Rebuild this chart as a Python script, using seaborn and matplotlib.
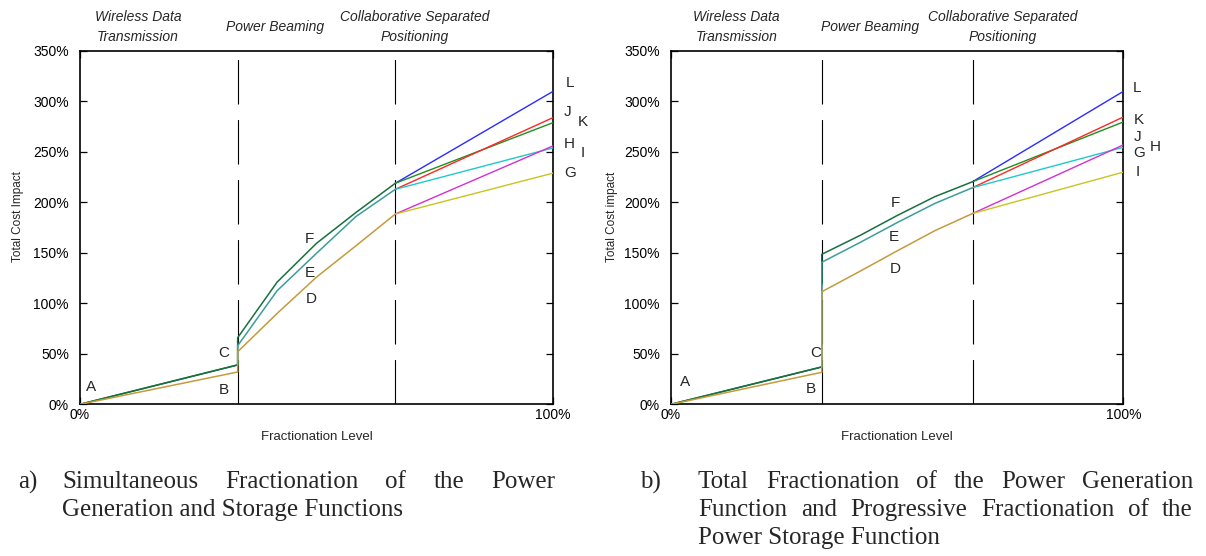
import matplotlib
matplotlib.use("Agg")
import matplotlib.pyplot as plt
import matplotlib.ticker as mticker
import numpy as np
import pandas as pd
import seaborn as sns

sns.set_theme(style="white")
plt.rcParams["font.family"] = ["Liberation Sans", "DejaVu Sans"]

# ---------------------------------------------------------------------------
# Data: total cost impact (%) versus fractionation level (0..1)
# ---------------------------------------------------------------------------
x_levels = [0.0, 1 / 3, 1 / 3, 5 / 12, 1 / 2, 7 / 12, 2 / 3, 1.0]

# (a) simultaneous fractionation of generation and storage
trunk_upper_a = [0, 39, 66, 121, 159.5, 190, 219]      # F path
trunk_mid_a = [0, 39, 58, 112.5, 149.6, 186, 213]       # E path
trunk_lower_a = [0, 32, 52, 90, 126, 157, 188.5]        # D path
end_blue_a, end_green_a = 310, 279
end_red_a, end_cyan_a = 284, 254
end_magenta_a, end_yellow_a = 256, 229

# (b) total generation fractionation, progressive storage fractionation
trunk_upper_b = [0, 37, 148.6, 167, 187, 205.7, 220.5]
trunk_mid_b = [0, 37, 140.7, 160, 180, 199, 214.6]
trunk_lower_b = [0, 31.7, 111.5, 131.5, 152, 172, 189]
end_blue_b, end_green_b = 310, 279.7
end_red_b, end_cyan_b = 284.6, 254.6
end_magenta_b, end_yellow_b = 257, 230

y_ticks = [0, 50, 100, 150, 200, 250, 300, 350]
x_ticks = [0, 1]
x_tick_labels = ["0%", "100%"]

section_titles = [["Wireless Data", "Transmission"], ["Power Beaming"],
                  ["Collaborative Separated", "Positioning"]]

# point labels: text -> (x, y) in data units
point_labels_a = {"A": (0.023, 17.5), "B": (0.303, 14), "C": (0.303, 50.5),
                  "D": (0.488, 104), "E": (0.485, 130), "F": (0.485, 163.5),
                  "L": (1.036, 318), "J": (1.031, 290), "K": (1.063, 280),
                  "H": (1.034, 258), "I": (1.062, 249), "G": (1.037, 229.5)}
point_labels_b = {"A": (0.031, 22.4), "B": (0.31, 15), "C": (0.32, 50.5),
                  "F": (0.495, 199.7), "E": (0.493, 165.4), "D": (0.495, 133.7),
                  "L": (1.031, 313), "K": (1.034, 281.6), "J": (1.031, 265),
                  "G": (1.034, 249), "H": (1.070, 255), "I": (1.031, 230.4)}

# colours
C_UPPER = "#17703f"
C_MID = "#3c9c9c"
C_LOWER = "#c69a3c"
C_BLUE, C_GREEN, C_RED = "#2b2bff", "#1f8f1f", "#ff2626"
C_CYAN, C_MAGENTA, C_YELLOW = "#1fcaca", "#d42fd4", "#c9c41f"


def seg(ax, xs, ys, color, lw=1.1, z=3):
    df = pd.DataFrame({"x": xs, "y": ys})
    sns.lineplot(data=df, x="x", y="y", ax=ax, color=color, lw=lw,
                 estimator=None, sort=False, zorder=z)


def draw_panel(ax, up, mid, low, ends, labels, ylabel, title_x):
    # section 1: two shared paths
    seg(ax, x_levels[:2], mid[:2], C_UPPER, z=3)
    seg(ax, x_levels[:2], up[:2], C_UPPER, z=3)
    seg(ax, x_levels[:2], low[:2], C_LOWER, z=3)
    # section 2 (with the jump at the first boundary)
    seg(ax, x_levels[1:7], up[1:7], C_UPPER, z=3)
    seg(ax, x_levels[1:7], mid[1:7], C_MID, z=4)
    seg(ax, x_levels[1:7], low[1:7], C_LOWER, z=5)
    # section 3: individual branches
    blue, green, red, cyan, magenta, yellow = ends
    branches = [(up, blue, C_BLUE), (up, green, C_GREEN), (mid, red, C_RED),
                (mid, cyan, C_CYAN), (low, magenta, C_MAGENTA),
                (low, yellow, C_YELLOW)]
    for trunk, end, col in branches:
        seg(ax, x_levels[6:], [trunk[6], end], col, lw=1.0, z=4)

    # section boundaries
    for xb in (1 / 3, 2 / 3):
        ax.axvline(xb, color="black", lw=0.8, dashes=(40, 14), zorder=2)

    ax.set_xlim(0, 1)
    ax.set_ylim(0, 350)
    ax.set_yticks(y_ticks)
    ax.yaxis.set_major_formatter(mticker.FuncFormatter(lambda v, p: f"{v:.0f}%"))
    ax.set_xticks(x_ticks)
    ax.set_xticklabels(x_tick_labels)
    ax.tick_params(axis="both", direction="in", length=5, width=0.9,
                   colors="black", labelsize=10, top=True, right=True,
                   bottom=True, left=True)
    ax.tick_params(axis="y", pad=8)
    ax.tick_params(axis="x", pad=3)
    for s in ax.spines.values():
        s.set_visible(True)
        s.set_color("black")
        s.set_linewidth(1.2)
    ax.grid(False)

    ax.set_xlabel("Fractionation Level", fontsize=9.5)
    ax.xaxis.set_label_coords(0.5, -0.093)
    ax.xaxis.label.set_va("center")
    ax.set_ylabel(ylabel, fontsize=8.5)
    ax.yaxis.set_label_coords(-0.131, 0.53)
    ax.yaxis.label.set_va("center")

    for txt, (lx, ly) in labels.items():
        ax.text(lx, ly, txt, fontsize=11, ha="center", va="center",
                clip_on=False)

    for lines, tx in zip(section_titles, title_x):
        if len(lines) == 2:
            ys = [1.097, 1.040]
        else:
            ys = [1.068]
        for line, ty in zip(lines, ys):
            ax.text(tx, ty, line, transform=ax.transAxes, fontsize=10,
                    style="italic", ha="center", va="center")


fig = plt.figure(figsize=(12.06, 5.56), dpi=100)
fig.patch.set_facecolor("white")
ax_a = fig.add_axes([80 / 1206, 1 - 404.3 / 556, 473 / 1206, 353.3 / 556])
ax_b = fig.add_axes([671 / 1206, 1 - 404.3 / 556, 452.3 / 1206, 353.3 / 556])

draw_panel(ax_a, trunk_upper_a, trunk_mid_a, trunk_lower_a,
           (end_blue_a, end_green_a, end_red_a, end_cyan_a,
            end_magenta_a, end_yellow_a),
           point_labels_a, "Total Cost Impact", (0.123, 0.412, 0.708))
draw_panel(ax_b, trunk_upper_b, trunk_mid_b, trunk_lower_b,
           (end_blue_b, end_green_b, end_red_b, end_cyan_b,
            end_magenta_b, end_yellow_b),
           point_labels_b, "Total Cost impact", (0.145, 0.44, 0.734))

# captions
cap_kw = dict(fontsize=18, family=["Liberation Serif", "DejaVu Serif"],
              va="center", ha="left")
renderer = fig.canvas.get_renderer()
W = fig.bbox.width


def justified(words, x0_px, x1_px, y):
    texts = [fig.text(0, y, w, **cap_kw) for w in words]
    widths = [t.get_window_extent(renderer).width for t in texts]
    gap = (x1_px - x0_px - sum(widths)) / (len(words) - 1)
    pos = x0_px
    for t, w in zip(texts, widths):
        t.set_x(pos / W)
        pos += w + gap


y1, y2, y3 = 1 - 482 / 556, 1 - 510 / 556, 1 - 538 / 556
fig.text(18 / W, y1, "a)", **cap_kw)
justified("Simultaneous Fractionation of the Power".split(), 62, 555, y1)
fig.text(62 / W, y2, "Generation and Storage Functions", **cap_kw)

fig.text(640 / W, y1, "b)", **cap_kw)
justified("Total Fractionation of the Power Generation".split(), 698, 1193, y1)
justified("Function and Progressive Fractionation of the".split(), 698, 1193, y2)
fig.text(698 / W, y3, "Power Storage Function", **cap_kw)

fig.savefig("out.png", dpi=100, facecolor="white")
